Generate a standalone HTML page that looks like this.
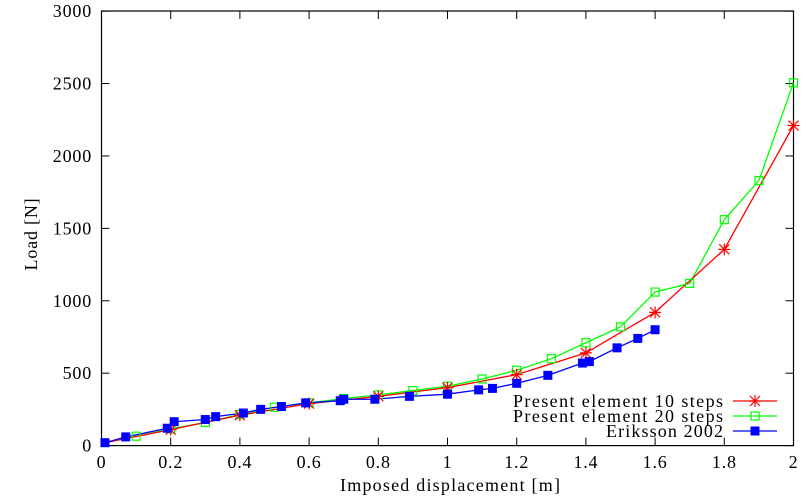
<!DOCTYPE html>
<html><head><meta charset="utf-8"><style>
html,body{margin:0;padding:0;background:#fff;}
svg{display:block;font-family:"Liberation Serif",serif;}
</style></head><body>
<svg id="s" width="807" height="497" xmlns="http://www.w3.org/2000/svg"></svg>
<script>
const s=document.getElementById('s');
const X=v=>101.5+v*346, Y=v=>445.6-v*0.14483;
let h='';
h+=`<rect x="101.5" y="11" width="692" height="434.6" fill="none" stroke="#000" stroke-width="1.2"/>`;
for(let i=0;i<=10;i++){const v=i*0.2,x=X(v);
 h+=`<line x1="${x}" y1="445.6" x2="${x}" y2="437.6" stroke="#000"/><line x1="${x}" y1="11" x2="${x}" y2="19" stroke="#000"/>`;
 h+=`<text x="${x}" y="468" font-size="18" letter-spacing="0.8" text-anchor="middle">${i==0?'0':i==5?'1':i==10?'2':v.toFixed(1)}</text>`;}
for(let i=0;i<=6;i++){const v=i*500,y=Y(v);
 h+=`<line x1="101.5" y1="${y}" x2="109.5" y2="${y}" stroke="#000"/><line x1="793.5" y1="${y}" x2="785.5" y2="${y}" stroke="#000"/>`;
 h+=`<text x="92" y="${y+6}" font-size="18" letter-spacing="0.8" text-anchor="end">${v}</text>`;}
h+=`<text x="340" y="491" font-size="18" textLength="220" lengthAdjust="spacing">Imposed displacement [m]</text>`;
h+=`<text x="37" y="234" font-size="18" letter-spacing="0.8" text-anchor="middle" transform="rotate(-90 37 234)">Load [N]</text>`;
const red=[[0.01,20],[0.2,110],[0.4,210],[0.6,290],[0.8,340],[1.0,400],[1.2,490],[1.4,640],[1.6,920],[1.8,1355],[2.0,2210]];
const green=[[0.01,20],[0.1,65],[0.2,115],[0.3,160],[0.4,215],[0.5,265],[0.6,295],[0.7,325],[0.8,350],[0.9,380],[1.0,410],[1.1,460],[1.2,520],[1.3,600],[1.4,710],[1.5,820],[1.6,1060],[1.7,1120],[1.8,1560],[1.9,1830],[2.0,2505]];
const blue=[[0.01,20],[0.07,60],[0.19,120],[0.21,165],[0.3,180],[0.33,200],[0.41,225],[0.46,250],[0.52,270],[0.59,295],[0.69,310],[0.7,320],[0.79,320],[0.89,340],[1.0,355],[1.09,385],[1.13,395],[1.2,430],[1.29,485],[1.39,570],[1.41,580],[1.49,675],[1.55,740],[1.6,800]];
const line=(d,c)=>`<polyline fill="none" stroke="${c}" stroke-width="1.3" points="${d.map(p=>X(p[0])+','+Y(p[1])).join(' ')}"/>`;
const star=(x,y)=>`<path d="M${x-6} ${y}H${x+6}M${x} ${y-6}V${y+6}M${x-5} ${y-5}L${x+5} ${y+5}M${x-5} ${y+5}L${x+5} ${y-5}" stroke="#f00" stroke-width="1.2"/>`;
const sq=(x,y)=>`<rect x="${x-4}" y="${y-4}" width="8" height="8" fill="none" stroke="#0f0" stroke-width="1.2"/>`;
const fs=(x,y)=>`<rect x="${x-4.5}" y="${y-4.5}" width="9" height="9" fill="#00f"/>`;
h+=line(green,'#0f0')+line(red,'#f00')+line(blue,'#00f');
green.slice(1).forEach(p=>h+=sq(X(p[0]),Y(p[1])));
red.slice(1).forEach(p=>h+=star(X(p[0]),Y(p[1])));
blue.forEach(p=>h+=fs(X(p[0]),Y(p[1])));
const L=[['Present element 10 steps','#f00',star,210],['Present element 20 steps','#0f0',sq,210],['Eriksson 2002','#00f',fs,117]];
L.forEach((l,i)=>{const y=401+i*15;
 h+=`<text x="${723-l[3]}" y="${y+6}" font-size="18" textLength="${l[3]}" lengthAdjust="spacing">${l[0]}</text>`;
 h+=`<line x1="733" y1="${y}" x2="777" y2="${y}" stroke="${l[1]}" stroke-width="1.3"/>`+l[2](755,y);});
s.innerHTML=h;
</script>
</body></html>
